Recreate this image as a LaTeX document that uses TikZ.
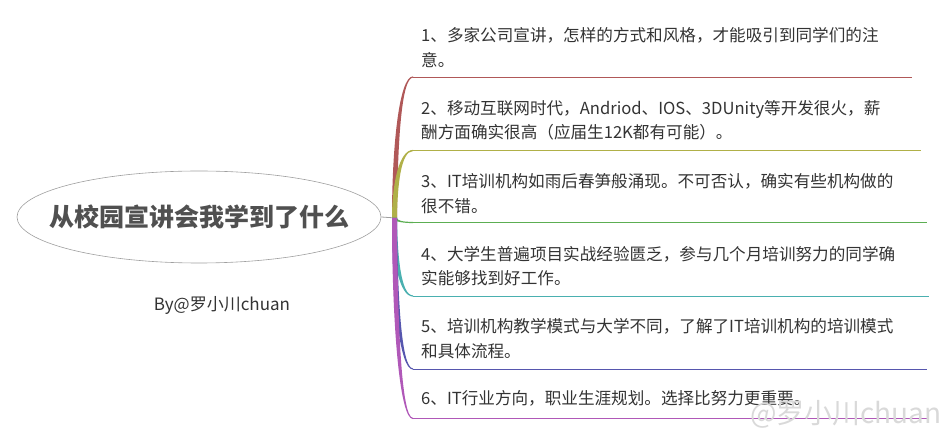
\documentclass[tikz,border=0pt]{standalone}
\usepackage{fontspec}
\newfontfamily\cjk{Noto Sans CJK SC}
\usetikzlibrary{shapes.geometric}
\definecolor{brRed}{HTML}{B05858}
\definecolor{brOlive}{HTML}{B0B048}
\definecolor{brGreen}{HTML}{5CAE52}
\definecolor{brTeal}{HTML}{4AB0B0}
\definecolor{brBlue}{HTML}{5656AE}
\definecolor{brPurple}{HTML}{B058B8}
\definecolor{titleGray}{HTML}{505050}
\definecolor{textGray}{HTML}{333333}

\begin{document}
\begin{tikzpicture}[
    x=1pt, y=-1pt,
    topic/.style={
        ellipse,
        draw=gray!75,
        line width=0.6pt,
        inner sep=0pt,
        minimum width=364pt,
        minimum height=92pt,
        text=titleGray,
        font=\cjk\bfseries\fontsize{25}{30}\selectfont
    },
    item/.style={
        anchor=west,
        align=left,
        inner sep=0pt,
        text=textGray,
        font=\cjk\fontsize{16.6}{24.5}\selectfont
    },
    sign/.style={
        inner sep=0pt,
        text=textGray,
        font=\cjk\fontsize{17}{20}\selectfont
    },
    watermark/.style={
        inner sep=0pt,
        text=gray!30,
        font=\cjk\fontsize{28}{30}\selectfont
    },
    underline/.style={line width=0.9pt}
]
\useasboundingbox (0,0) rectangle (946,435);

\node[topic] (root) at (199,217) {\makebox[0pt]{从校园宣讲会我学到了什么}};
\node[sign] (by) at (222,305) {By@罗小川chuan};

\coordinate (hub) at (396,218);
\draw[gray!75, line width=0.8pt] (root.east) -- (hub);

% items on the right
\node[item] (t1) at (421,47.5) {1、多家公司宣讲，怎样的方式和风格，才能吸引到同学们的注\\ 意。};
\node[item] (t2) at (421,120.5) {2、移动互联网时代，Andriod、IOS、3DUnity等开发很火，薪\\酬方面确实很高（应届生12K都有可能）。};
\node[item] (t3) at (421,193.5) {3、IT培训机构如雨后春笋般涌现。不可否认，确实有些机构做的\\ 很不错。};
\node[item] (t4) at (421,266) {4、大学生普遍项目实战经验匮乏，参与几个月培训努力的同学确\\ 实能够找到好工作。};
\node[item] (t5) at (421,338.5) {5、培训机构教学模式与大学不同，了解了IT培训机构的培训模式\\ 和具体流程。};
\node[item] (t6) at (421,398) {6、IT行业方向，职业生涯规划。选择比努力更重要。};

% branches: tapered curve from the hub, then the underline
\foreach \i/\y/\xe/\c in {1/77/912/brRed, 2/150.5/921/brOlive, 3/222.5/927/brGreen,
                          4/296/929/brTeal, 5/369/927/brBlue, 6/418.5/928/brPurple}{
    \pgfmathsetmacro\ym{218+(\y-218)*0.5}
    \pgfmathsetmacro\s{(\y>218) ? 0.6 : -0.6}
    \coordinate (s\i) at (413,\y);
    \coordinate (e\i) at (\xe,\y);
    \fill[\c] ([xshift=-4pt]hub) .. controls (392,\ym) and (399,\y+\s) .. (413,\y+\s)
        -- (413,\y-\s) .. controls (401,\y-\s) and (397.5,\ym) .. ([xshift=1pt]hub) -- cycle;
    \draw[underline, \c] (s\i) -- (e\i);
}

\node[watermark] (wm) at (846,414) {@罗小川chuan};

\end{tikzpicture}
\end{document}
